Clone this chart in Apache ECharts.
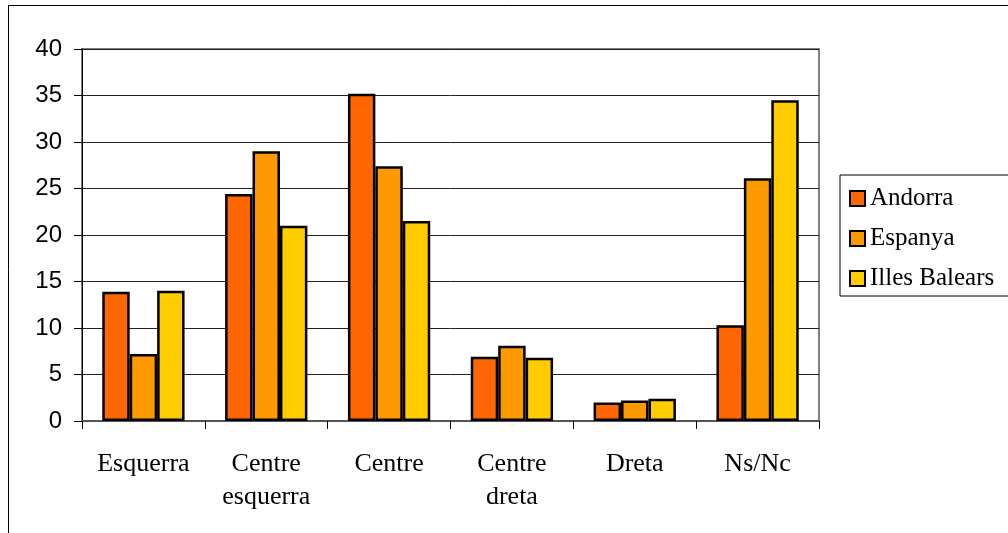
<!DOCTYPE html>
<html>
<head>
<meta charset="utf-8">
<script src="https://cdn.jsdelivr.net/npm/echarts@6/dist/echarts.min.js"></script>
<style>
  html, body { margin: 0; padding: 0; background: #fff; }
  #main { width: 1008px; height: 533px; }
</style>
</head>
<body>
<div id="main"></div>
<script>
// dades
var categories = ['Esquerra', 'Centre\nesquerra', 'Centre', 'Centre\ndreta', 'Dreta', 'Ns/Nc'];
var andorra = [13.9, 24.4, 35.2, 6.9, 2.0, 10.3];
var espanya = [7.2, 29.0, 27.4, 8.1, 2.2, 26.1];
var balears = [14.0, 21.0, 21.5, 6.8, 2.4, 34.5];
var seriesNames = ['Andorra', 'Espanya', 'Illes Balears'];
var colors = ['#ff6600', '#ff9900', '#ffcc00'];

var chart = echarts.init(document.getElementById('main'));

function barSeries(name, data, color) {
  return {
    name: name,
    type: 'bar',
    data: data,
    barGap: 0,
    barCategoryGap: '33%',
    itemStyle: {
      color: color,
      borderColor: '#000',
      borderWidth: 2.5
    }
  };
}

var option = {
  animation: false,
  backgroundColor: '#fff',
  graphic: [{
    type: 'rect',
    shape: { x: 8.5, y: 5.5, width: 1020, height: 560 },
    style: { fill: 'none', stroke: '#000', lineWidth: 1 },
    silent: true
  }],
  legend: {
    orient: 'vertical',
    left: 840,
    top: 175,
    data: seriesNames,
    icon: 'rect',
    itemWidth: 15,
    itemHeight: 15,
    itemGap: 15,
    padding: [11, 40, 5, 9],
    borderColor: '#000',
    borderWidth: 1,
    itemStyle: { borderColor: '#000', borderWidth: 2 },
    textStyle: {
      fontFamily: 'Liberation Serif',
      fontSize: 25,
      color: '#000'
    }
  },
  grid: {
    left: 82,
    right: 189,
    top: 49,
    bottom: 112,
    show: true,
    borderColor: '#808080',
    borderWidth: 2
  },
  xAxis: {
    type: 'category',
    data: categories,
    axisLine: { lineStyle: { color: '#555', width: 2 } },
    axisTick: { show: true, length: 8, lineStyle: { color: '#000' } },
    axisLabel: {
      fontFamily: 'Liberation Serif',
      fontSize: 26,
      color: '#000',
      margin: 27,
      lineHeight: 33
    }
  },
  yAxis: {
    type: 'value',
    min: 0,
    max: 40,
    interval: 5,
    axisLine: { show: true, lineStyle: { color: '#000' } },
    axisTick: { show: true, length: 8, lineStyle: { color: '#000' } },
    axisLabel: {
      fontFamily: 'Liberation Sans',
      fontSize: 24,
      color: '#000',
      margin: 20
    },
    splitLine: { lineStyle: { color: '#222', width: 1 } }
  },
  series: [
    barSeries(seriesNames[0], andorra, colors[0]),
    barSeries(seriesNames[1], espanya, colors[1]),
    barSeries(seriesNames[2], balears, colors[2])
  ]
};

chart.setOption(option);
</script>
</body>
</html>
